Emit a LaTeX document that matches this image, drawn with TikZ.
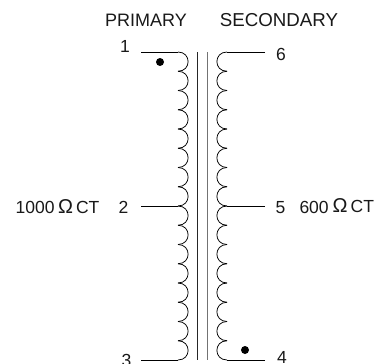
\documentclass[tikz,border=0pt]{standalone}
\usepackage{fontspec}
\setmainfont{Liberation Sans}
\newcommand{\ohmsign}{{\fontsize{20}{22}\selectfont Ω}}
\begin{document}
\begin{tikzpicture}[x=1pt,y=-1pt,
  lbl/.style={inner sep=0pt,font=\fontsize{17.5}{20}\selectfont,anchor=base,text=black!90},
  head/.style={lbl,font=\fontsize{18}{20}\selectfont},
  wire/.style={draw=black,line width=0.75pt},
  corea/.style={draw=black!85,line width=0.75pt},
  coreb/.style={draw=black!55,line width=0.9pt},
  dotmark/.style={circle,fill=black,inner sep=0pt,minimum size=8pt}]
\useasboundingbox (0,0) rectangle (375,364);
\fill[white] (0,0) rectangle (375,364);
\node[head] (prim) at (146,26) {PRIMARY};
\node[head,font=\fontsize{18.7}{20}\selectfont] (sec) at (279,26) {SECONDARY};
\node[lbl] (n1) at (125,52) {1};
\node[lbl] (n2) at (123.5,213.8) {2};
\node[lbl] (n3) at (126.5,366.5) {3};
\node[lbl] (n4) at (282,363.6) {4};
\node[lbl] (n5) at (280.5,213.8) {5};
\node[lbl] (n6) at (281,60) {6};
\node[lbl,anchor=base west] (z1) at (15.5,213.8) {1000\hspace{3.5pt}\ohmsign\hspace{3pt}CT};
\node[lbl,anchor=base west] (z2) at (299.3,213.8) {600\hspace{4pt}\raisebox{1pt}{\ohmsign}\hspace{3pt}\raisebox{1.3pt}{CT}};
\coordinate (p1) at (141,52);
\coordinate (p1e) at (178,52);
\coordinate (p2) at (141,206);
\coordinate (p2e) at (178,206);
\coordinate (p3) at (141,360);
\coordinate (p3e) at (178,360);
\coordinate (s6) at (265,52);
\coordinate (s6e) at (227,52);
\coordinate (s5) at (265,206);
\coordinate (s5e) at (227,206);
\coordinate (s4) at (265,360);
\coordinate (s4e) at (227,360);
\draw[wire] (p1) -- (p1e);
\draw[wire] (p2) -- (p2e);
\draw[wire] (p3) -- (p3e);
\draw[wire] (s6) -- (s6e);
\draw[wire] (s5) -- (s5e);
\draw[wire] (s4) -- (s4e);
\foreach \i in {0,...,15}{
  \pgfmathsetmacro{\ya}{52+19.25*\i}
  \pgfmathsetmacro{\yb}{52+19.25*(\i+1)}
  \draw[wire] (178,\ya) .. controls (191.5,\ya) and (191.5,\yb) .. (178,\yb);
  \draw[wire] (227,\ya) .. controls (213.5,\ya) and (213.5,\yb) .. (227,\yb);
}
\coordinate (c1t) at (197.7,52);
\coordinate (c1b) at (197.7,360);
\coordinate (c2t) at (207,52);
\coordinate (c2b) at (207,360);
\draw[corea] (c1t) -- (c1b);
\draw[coreb] (c2t) -- (c2b);
\node[dotmark] (d1) at (160,62) {};
\node[dotmark] (d2) at (245,350) {};
\end{tikzpicture}
\end{document}
